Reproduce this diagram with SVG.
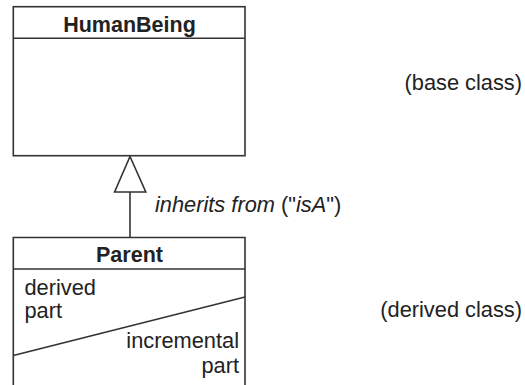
<svg xmlns="http://www.w3.org/2000/svg" width="525" height="385" viewBox="0 0 525 385">
  <style>
    .box { fill: #fff; stroke: #333; stroke-width: 1.6; }
    .ln { fill: none; stroke: #333; stroke-width: 1.6; }
    text { font-family: "Liberation Sans", Arial, sans-serif; font-size: 21.8px; fill: #222; }
    .title { font-weight: bold; font-size: 21.5px; text-anchor: middle; }
    .it { font-style: italic; }
  </style>
  <rect width="525" height="385" fill="#fff"/>

  <!-- base class -->
  <g id="humanbeing">
    <rect class="box" x="13.3" y="6.7" width="231.7" height="149"/>
    <line class="ln" x1="13.3" y1="38.3" x2="245" y2="38.3"/>
    <text class="title" x="129.5" y="31.5">HumanBeing</text>
  </g>

  <!-- derived class, open at the bottom -->
  <g id="parent">
    <path class="ln" d="M13.3,390 V237.5 H245 V390"/>
    <line class="ln" x1="13.3" y1="269" x2="245" y2="269"/>
    <line class="ln" x1="13.3" y1="355.5" x2="245" y2="297"/>
    <text class="title" x="129.5" y="261.5">Parent</text>
    <text x="24.5" y="295">derived</text>
    <text x="24.5" y="317.5">part</text>
    <text x="239" y="348" text-anchor="end">incremental</text>
    <text x="239" y="372.5" text-anchor="end">part</text>
  </g>

  <!-- generalization connector -->
  <g id="connectors">
    <line class="ln" x1="130" y1="192" x2="130" y2="237.5"/>
    <polygon class="box" points="130,156.5 145.8,192 114.6,192"/>
    <text x="155" y="211.5"><tspan class="it">inherits from</tspan> ("<tspan class="it">isA</tspan>")</text>
  </g>

  <g id="labels">
    <text x="522" y="89.5" text-anchor="end">(base class)</text>
    <text x="522" y="317" text-anchor="end">(derived class)</text>
  </g>
</svg>
